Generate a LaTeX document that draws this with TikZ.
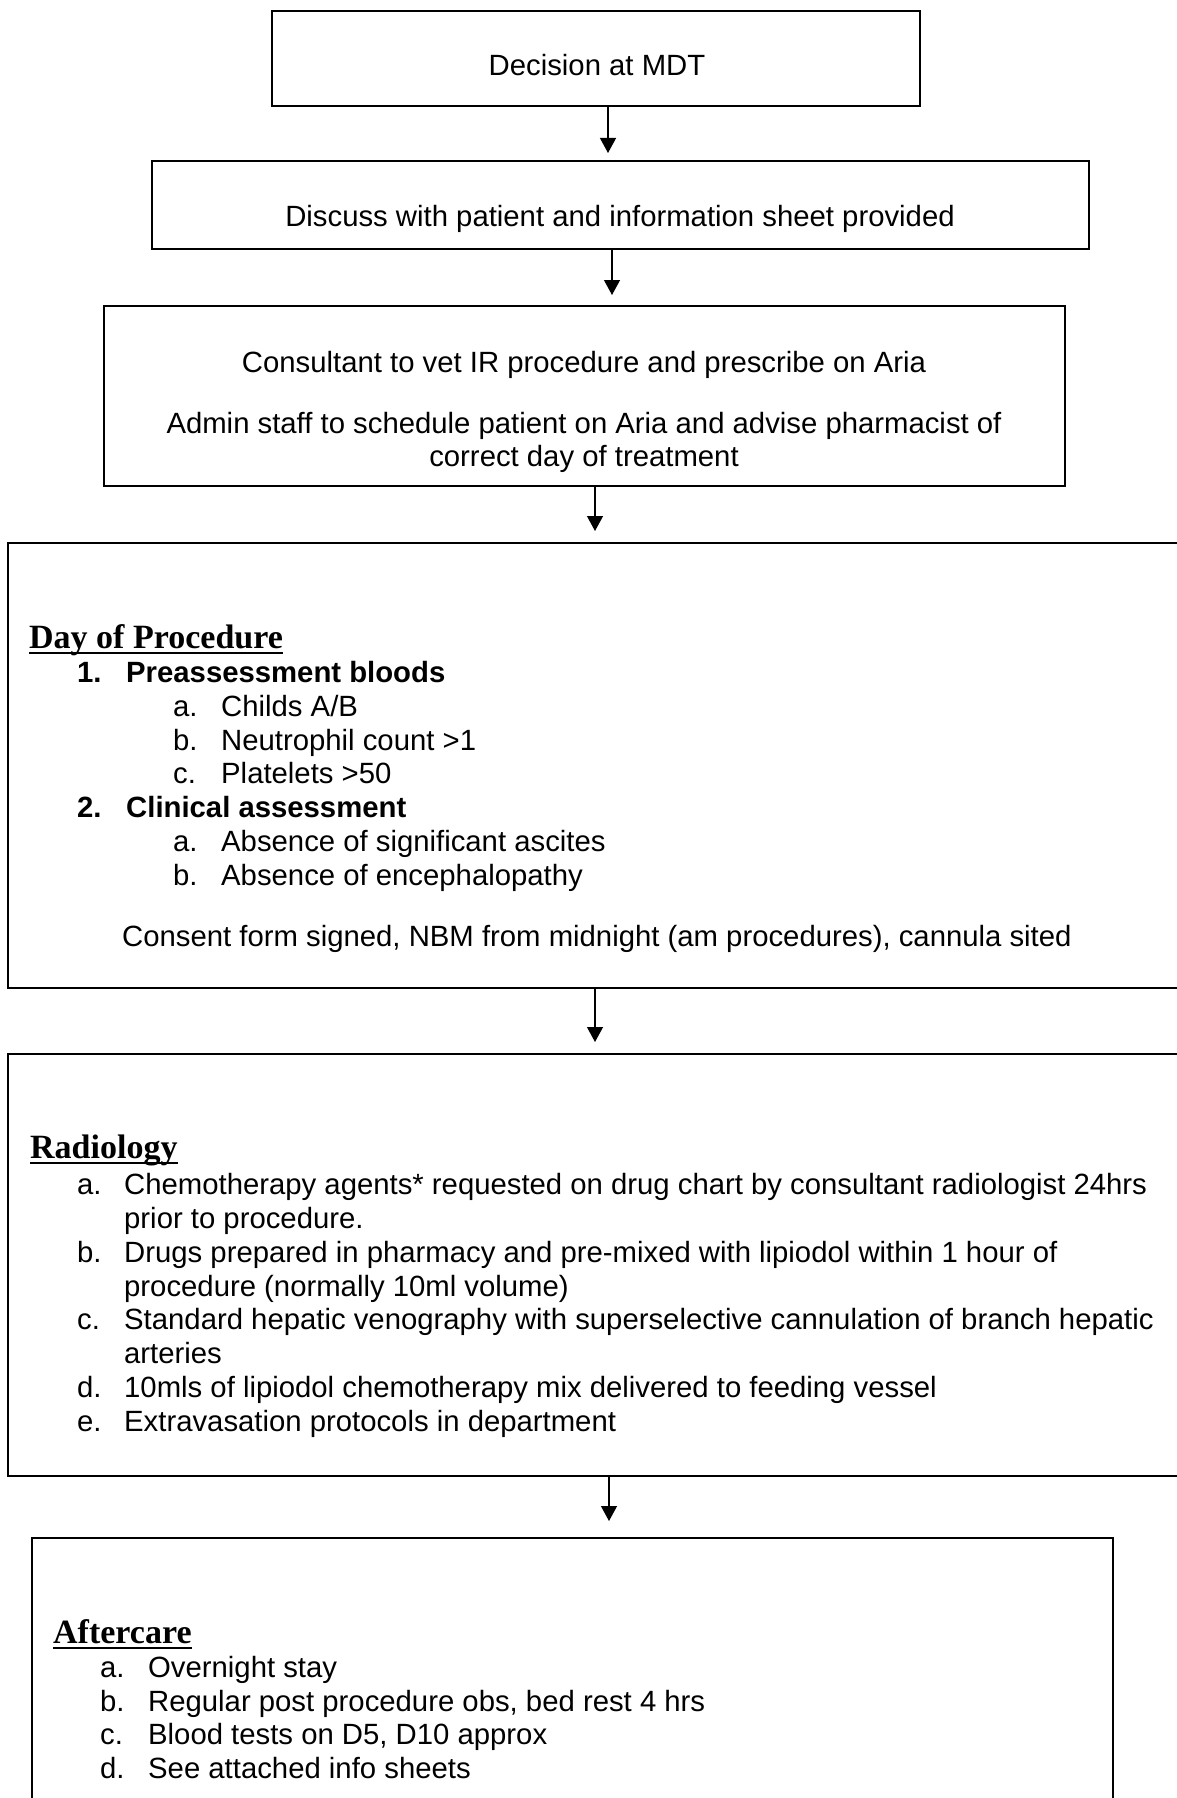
\documentclass[tikz,border=0pt]{standalone}
\usepackage{fontspec}
\setmainfont{Liberation Sans}
\newfontfamily\headfont{Liberation Serif}
\usetikzlibrary{arrows.meta}

\begin{document}
\begin{tikzpicture}[x=1pt,y=-1pt,
  box/.style={draw,line width=2pt,inner sep=0pt},
  txt/.style={inner sep=0pt,anchor=base west,font=\fontsize{29.3}{34}\selectfont},
  btxt/.style={txt,font=\fontsize{29.3}{34}\selectfont\bfseries},
  head/.style={inner sep=0pt,anchor=base west,font=\fontsize{34}{40}\selectfont\headfont\bfseries},
  uline/.style={line width=2pt},
  arr/.style={line width=1.2pt,-{Triangle[length=15pt,width=16pt]}}]
\useasboundingbox (0,0) rectangle (1177,1798);
\clip (0,0) rectangle (1177,1798);
% boxes
\node[box,minimum width=648pt,minimum height=95pt] (mdt) at (596,58.5) {};
\node[box,minimum width=937pt,minimum height=88pt] (discuss) at (620.5,205) {};
\node[box,minimum width=961pt,minimum height=180pt] (vet) at (584.5,396) {};
\node[box,minimum width=1192pt,minimum height=445pt] (dayproc) at (604,765.5) {};
\node[box,minimum width=1192pt,minimum height=422pt] (radio) at (604,1265) {};
\node[box,minimum width=1081pt,minimum height=272pt] (after) at (572.5,1674) {};
% arrows
\draw[arr,shorten >=7pt] (mdt.south -| 608,0) -- (discuss.north -| 608,0);
\draw[arr,shorten >=10pt] (discuss.south -| 612,0) -- (vet.north -| 612,0);
\draw[arr,shorten >=11pt] (vet.south -| 595,0) -- (dayproc.north -| 595,0);
\draw[arr,shorten >=11pt] (dayproc.south -| 595,0) -- (radio.north -| 595,0);
\draw[arr,shorten >=16pt] (radio.south -| 609,0) -- (after.north -| 609,0);
% top three boxes
\node[txt,anchor=base] (mdttext) at (597,76) {Decision at MDT};
\node[txt,anchor=base] (discusstext) at (620,226) {Discuss with patient and information sheet provided};
\node[txt,anchor=base] (vettext) at (584,372) {Consultant to vet IR procedure and prescribe on Aria};
\node[txt,anchor=base] (admintext) at (584,433) {Admin staff to schedule patient on Aria and advise pharmacist of};
\node[txt,anchor=base] (admintext2) at (584,466) {correct day of treatment};
% day of procedure
\node[head] (dayhead) at (29,648) {Day of Procedure};
\draw[uline] ([yshift=-5pt]dayhead.base west) -- ([yshift=-5pt]dayhead.base east);
\node[btxt] (onenum) at (77,682) {1.};
\node[btxt] (one) at (126,682) {Preassessment bloods};
\node[txt] (oneanum) at (173,716) {a.};
\node[txt] (onea) at (221,716) {Childs A/B};
\node[txt] (onebnum) at (173,750) {b.};
\node[txt] (oneb) at (221,750) {Neutrophil count >1};
\node[txt] (onecnum) at (173,783) {c.};
\node[txt] (onec) at (221,783) {Platelets >50};
\node[btxt] (twonum) at (77,817) {2.};
\node[btxt] (two) at (126,817) {Clinical assessment};
\node[txt] (twoanum) at (173,851) {a.};
\node[txt] (twoa) at (221,851) {Absence of significant ascites};
\node[txt] (twobnum) at (173,885) {b.};
\node[txt] (twob) at (221,885) {Absence of encephalopathy};
\node[txt] (consent) at (122,946) {Consent form signed, NBM from midnight (am procedures), cannula sited};
% radiology
\node[head] (radhead) at (30,1158) {Radiology};
\draw[uline] ([yshift=-5pt]radhead.base west) -- ([yshift=-5pt]radhead.base east);
\node[txt] (radanum) at (77,1194) {a.};
\node[txt] (rada) at (124,1194) {Chemotherapy agents* requested on drug chart by consultant radiologist 24hrs};
\node[txt] (rada2) at (124,1228) {prior to procedure.};
\node[txt] (radbnum) at (77,1262) {b.};
\node[txt] (radb) at (124,1262) {Drugs prepared in pharmacy and pre-mixed with lipiodol within 1 hour of};
\node[txt] (radb2) at (124,1296) {procedure (normally 10ml volume)};
\node[txt] (radcnum) at (77,1329) {c.};
\node[txt] (radc) at (124,1329) {Standard hepatic venography with superselective cannulation of branch hepatic};
\node[txt] (radc2) at (124,1363) {arteries};
\node[txt] (raddnum) at (77,1397) {d.};
\node[txt] (radd) at (124,1397) {10mls of lipiodol chemotherapy mix delivered to feeding vessel};
\node[txt] (radenum) at (77,1431) {e.};
\node[txt] (rade) at (124,1431) {Extravasation protocols in department};
% aftercare
\node[head] (afthead) at (53,1643) {Aftercare};
\draw[uline] ([yshift=-5pt]afthead.base west) -- ([yshift=-5pt]afthead.base east);
\node[txt] (aftanum) at (100,1677) {a.};
\node[txt] (afta) at (148,1677) {Overnight stay};
\node[txt] (aftbnum) at (100,1711) {b.};
\node[txt] (aftb) at (148,1711) {Regular post procedure obs, bed rest 4 hrs};
\node[txt] (aftcnum) at (100,1744) {c.};
\node[txt] (aftc) at (148,1744) {Blood tests on D5, D10 approx};
\node[txt] (aftdnum) at (100,1778) {d.};
\node[txt] (aftd) at (148,1778) {See attached info sheets};
\end{tikzpicture}
\end{document}
